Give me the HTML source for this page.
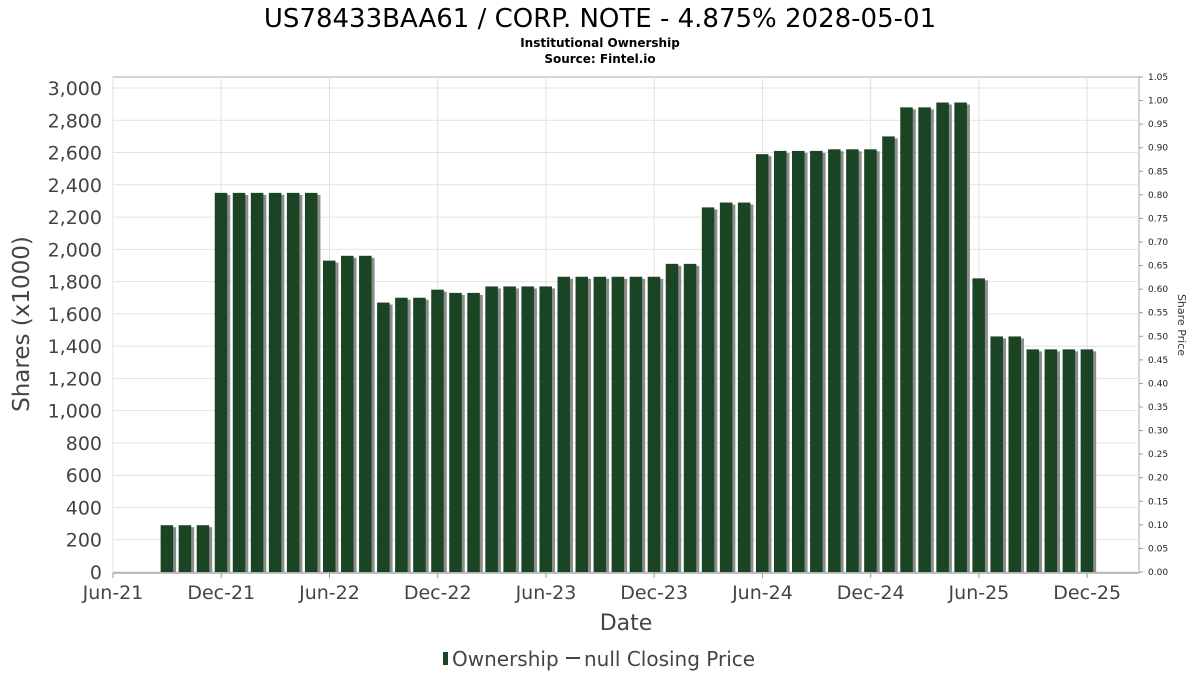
<!DOCTYPE html>
<html><head><meta charset="utf-8"><style>
body{margin:0;background:#fff;font-family:"DejaVu Sans","Liberation Sans",sans-serif}
svg{display:block}
</style></head><body>
<svg id="c" width="1200" height="675" viewBox="0 0 1200 675">
<text x="600" y="27" text-anchor="middle" font-size="26" fill="#000">US78433BAA61 / CORP. NOTE - 4.875% 2028-05-01</text>
<text x="600" y="47" text-anchor="middle" font-size="12" font-weight="bold">Institutional Ownership</text>
<text x="600" y="63" text-anchor="middle" font-size="12" font-weight="bold">Source: Fintel.io</text>
<rect x="113" y="77" width="1026" height="496" fill="#fff" stroke="#aaa"/>
<g id="grid"></g><g id="bars"></g><g id="axes"></g>
<text x="29" y="324" transform="rotate(-90 29 324)" text-anchor="middle" font-size="23" fill="#444">Shares (x1000)</text>
<text x="1178" y="325" transform="rotate(90 1178 325)" text-anchor="middle" font-size="11" fill="#333">Share Price</text>
<text x="626" y="630" text-anchor="middle" font-size="22" fill="#444">Date</text>
<g>
<rect x="443" y="652" width="5" height="13" fill="#1a4424"/>
<text x="452" y="666" font-size="20" fill="#444">Ownership</text>
<line x1="566" y1="658" x2="580" y2="658" stroke="#444" stroke-width="2"/>
<text x="584" y="666" font-size="20" fill="#444">null Closing Price</text>
</g>
</svg>
<script>
const values=[290,290,290,2350,2350,2350,2350,2350,2350,1930,1960,1960,1670,1700,1700,1750,1730,1730,1770,1770,1770,1770,1830,1830,1830,1830,1830,1830,1910,1910,2260,2290,2290,2590,2610,2610,2610,2620,2620,2620,2700,2880,2880,2910,2910,1820,1460,1460,1380,1380,1380,1380];
const firstMonth=3; // Sep-21 relative to Jun-21
const xLabels=["Jun-21","Dec-21","Jun-22","Dec-22","Jun-23","Dec-23","Jun-24","Dec-24","Jun-25","Dec-25"];
const yTicks=[0,200,400,600,800,1000,1200,1400,1600,1800,2000,2200,2400,2600,2800,3000];
const rTicks=[0,0.05,0.1,0.15,0.2,0.25,0.3,0.35,0.4,0.45,0.5,0.55,0.6,0.65,0.7,0.75,0.8,0.85,0.9,0.95,1.0,1.05];
const NS="http://www.w3.org/2000/svg";
const X=m=>113+m*18.04;
const Y=v=>572-v*(484/3000);
const R=v=>572-v*(495/1.05);
function mk(t,a,p,txt){const e=document.createElementNS(NS,t);for(const k in a)e.setAttribute(k,a[k]);if(txt!=null)e.textContent=txt;p.appendChild(e);return e;}
const grid=document.getElementById('grid'),bars=document.getElementById('bars'),axes=document.getElementById('axes');
yTicks.forEach(v=>{
 const y=Y(v);
 const l=mk('line',{x1:113,x2:1139,y1:y,y2:y,stroke:'#e2e2e2'},grid);
 
 
 const t=mk('text',{x:102,y:y+7,'text-anchor':'end','font-size':19,fill:'#444'},axes,v.toLocaleString('en-US'));
 
 
});
xLabels.forEach((s,i)=>{
 const x=X(i*6);
 const l=mk('line',{x1:x,x2:x,y1:77,y2:573,stroke:'#e2e2e2'},grid);
 
 
 mk('line',{x1:x,x2:x,y1:573,y2:578,stroke:'#999'},axes);
 const t=mk('text',{x:x,y:599,'text-anchor':'middle','font-size':19,fill:'#444'},axes,s);
 
 
});
rTicks.forEach(v=>{
 const y=R(v);
 mk('line',{x1:1139,x2:1143,y1:y,y2:y,stroke:'#999'},axes);
 const t=mk('text',{x:1148,y:y+3,'font-size':9,fill:'#222'},axes,v.toFixed(2));
 
 
});
values.forEach((v,i)=>{
 const x=X(firstMonth+i);
 const s=mk('rect',{x:x-3.5,y:Y(v)+2,width:12.5,height:572-Y(v)-2,fill:'#8c8c8c'},bars);
 
 
 const b=mk('rect',{x:x-6.5,y:Y(v),width:12.5,height:572-Y(v),fill:'#1a4424'},bars);
 
 
});
mk('line',{x1:113,x2:1139,y1:573,y2:573,stroke:'#888'},axes);
</script>
</body></html>
